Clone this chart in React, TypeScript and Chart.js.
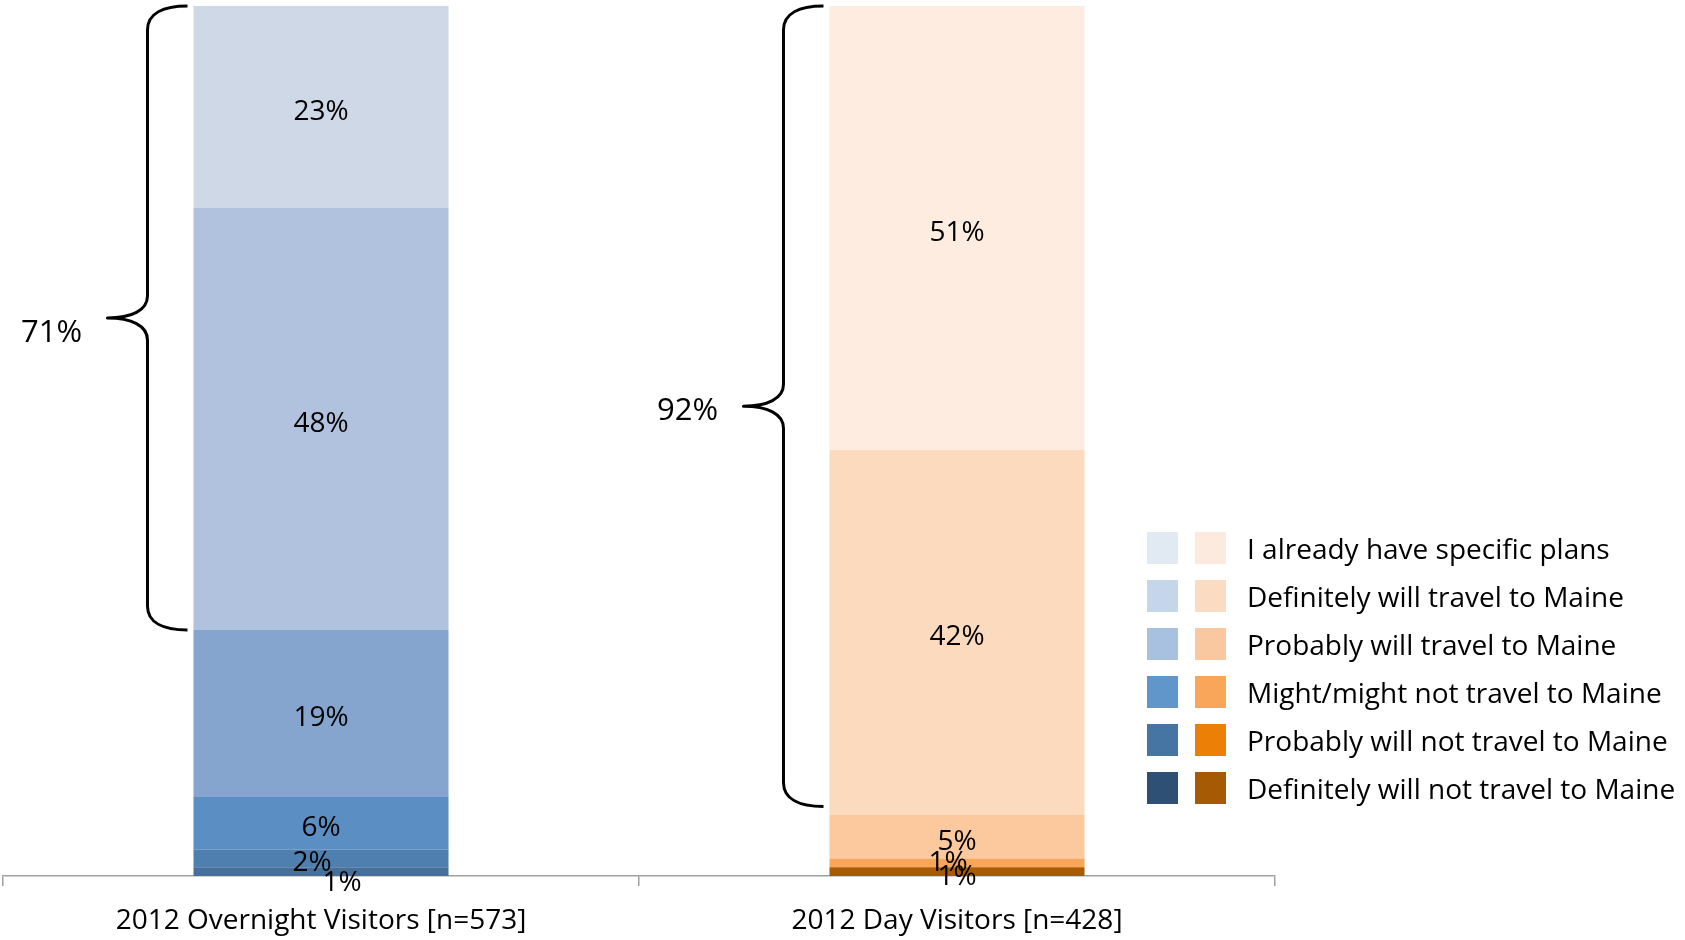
import React, { useEffect, useRef } from "react";
import { Chart, registerables } from "chart.js";

Chart.register(...registerables);

// ---------- data ----------
const categories = ["2012 Overnight Visitors [n=573]", "2012 Day Visitors [n=428]"];
const seriesNames = [
  "I already have specific plans",
  "Definitely will travel to Maine",
  "Probably will travel to Maine",
  "Might/might not travel to Maine",
  "Probably will not travel to Maine",
  "Definitely will not travel to Maine",
];
const overnightValues = [23, 48, 19, 6, 2, 1];
const dayValues = [51, 42, 5, 1, 0, 1];
const braceTotals = [71, 92];

// ---------- styles ----------
const overnightBarColors = ["#CED8E6", "#B0C2DD", "#85A5CF", "#5B8EC3", "#4F7FAF", "#466F9A"];
const dayBarColors = ["#FDECDF", "#FCDABD", "#FCC99F", "#F9A65A", "#EC7F06", "#A95B02"];
const overnightLegendColors = ["#E1E9F3", "#C5D6EA", "#A7C1DF", "#6096C9", "#4674A3", "#2E5075"];
const dayLegendColors = ["#FDEADF", "#FBDBC2", "#FAC8A0", "#F9A65A", "#EC7F06", "#A65A04"];
const FONT = "'Open Sans', 'Noto Sans', sans-serif";
// label nudges for overlapping small labels: key = seriesIndex-categoryIndex
const labelNudges: Record<string, [number, number]> = {
  "4-0": [-9, 0],
  "5-0": [21, 6],
  "3-1": [-9, -5],
};
const braceTextDy = [15, 5];

const valuesByCategory = [overnightValues, dayValues];
const totals = valuesByCategory.map((vals) => vals.reduce((a, b) => a + b, 0));

const labelPlugin = {
  id: "segLabels",
  afterDatasetsDraw(chart: any) {
    const ctx = chart.ctx;
    ctx.save();
    ctx.font = `28px ${FONT}`;
    ctx.fillStyle = "#000";
    ctx.textAlign = "center";
    ctx.textBaseline = "middle";
    chart.data.datasets.forEach((ds: any, di: number) => {
      const meta = chart.getDatasetMeta(di);
      const si = ds.seriesIndex;
      meta.data.forEach((bar: any, ci: number) => {
        const raw = valuesByCategory[ci][si];
        if (!raw) return;
        const nudge = labelNudges[`${si}-${ci}`] || [0, 0];
        const cy = (bar.y + bar.base) / 2 + 5 + nudge[1];
        ctx.fillText(`${raw}%`, bar.x + nudge[0], cy);
      });
    });
    ctx.restore();
  },
};

const bracePlugin = {
  id: "braces",
  afterDraw(chart: any) {
    const ctx = chart.ctx;
    const y = chart.scales.y;
    const topMeta = chart.getDatasetMeta(chart.data.datasets.length - 1);
    ctx.save();
    ctx.strokeStyle = "#000";
    ctx.lineWidth = 3;
    ctx.lineJoin = "round";
    braceTotals.forEach((total, ci) => {
      const bar = topMeta.data[ci];
      const E = bar.x - bar.width / 2 - 6;
      const yTop = y.getPixelForValue(100);
      const yBot = y.getPixelForValue(100 - (total / totals[ci]) * 100);
      const mid = (yTop + yBot) / 2;
      const w = 80;
      const h = w / 2;
      const r = 24;
      const rt = 22;
      ctx.beginPath();
      ctx.moveTo(E, yTop);
      ctx.bezierCurveTo(E - h * 0.6, yTop, E - h, yTop + r * 0.3, E - h, yTop + r);
      ctx.lineTo(E - h, mid - rt);
      ctx.bezierCurveTo(E - h, mid - rt * 0.35, E - h * 1.4, mid, E - w, mid);
      ctx.bezierCurveTo(E - h * 1.4, mid, E - h, mid + rt * 0.35, E - h, mid + rt);
      ctx.lineTo(E - h, yBot - r);
      ctx.bezierCurveTo(E - h, yBot - r * 0.3, E - h * 0.6, yBot, E, yBot);
      ctx.stroke();
      ctx.font = `31px ${FONT}`;
      ctx.fillStyle = "#000";
      ctx.textAlign = "center";
      ctx.textBaseline = "middle";
      ctx.fillText(`${total}%`, E - w - 56, mid + braceTextDy[ci]);
    });
    ctx.restore();
  },
};

function Legend() {
  return (
    <div style={{ position: "absolute", left: 1147, top: 524, fontFamily: FONT }}>
      {seriesNames.map((name, i) => (
        <div key={name} style={{ display: "flex", alignItems: "center", height: 48 }}>
          <div style={{ width: 31, height: 32, background: overnightLegendColors[i] }} />
          <div style={{ width: 31, height: 32, marginLeft: 17, background: dayLegendColors[i] }} />
          <div style={{ marginLeft: 21, fontSize: 28, color: "#000", whiteSpace: "nowrap", lineHeight: "32px" }}>
            {name}
          </div>
        </div>
      ))}
    </div>
  );
}

export default function App() {
  const canvasRef = useRef<HTMLCanvasElement | null>(null);

  useEffect(() => {
    if (!canvasRef.current) return;
    const datasets = seriesNames
      .map((name, si) => ({
        label: name,
        seriesIndex: si,
        data: valuesByCategory.map((vals, ci) => (vals[si] / totals[ci]) * 100),
        backgroundColor: [overnightBarColors[si], dayBarColors[si]],
        borderWidth: 0,
        barPercentage: 0.401,
        categoryPercentage: 1,
      }))
      .reverse();

    const chart = new Chart(canvasRef.current, {
      type: "bar",
      data: { labels: categories, datasets: datasets as any },
      options: {
        animation: false,
        responsive: false,
        maintainAspectRatio: false,
        layout: { padding: { left: 3, right: 410, top: 6, bottom: 0 } },
        plugins: { legend: { display: false }, tooltip: { enabled: false } },
        scales: {
          x: {
            stacked: true,
            grid: {
              display: true,
              drawOnChartArea: false,
              drawTicks: true,
              tickLength: 10,
              color: "#A0A0A0",
              lineWidth: 1.5,
              offset: true,
            },
            border: { display: true, color: "#A0A0A0", width: 1.5 },
            ticks: {
              color: "#000",
              font: { family: FONT, size: 28 },
              padding: 18,
              maxRotation: 0,
              autoSkip: false,
            },
            afterFit: (scale: any) => {
              scale.height = 64;
            },
          },
          y: {
            stacked: true,
            display: false,
            min: 0,
            max: 100,
          },
        },
      },
      plugins: [labelPlugin, bracePlugin],
    });
    return () => chart.destroy();
  }, []);

  return (
    <div style={{ position: "absolute", left: 0, top: 0, width: 1685, height: 940, background: "#fff" }}>
      <canvas ref={canvasRef} width={1685} height={940} style={{ width: 1685, height: 940 }} />
      <Legend />
    </div>
  );
}
